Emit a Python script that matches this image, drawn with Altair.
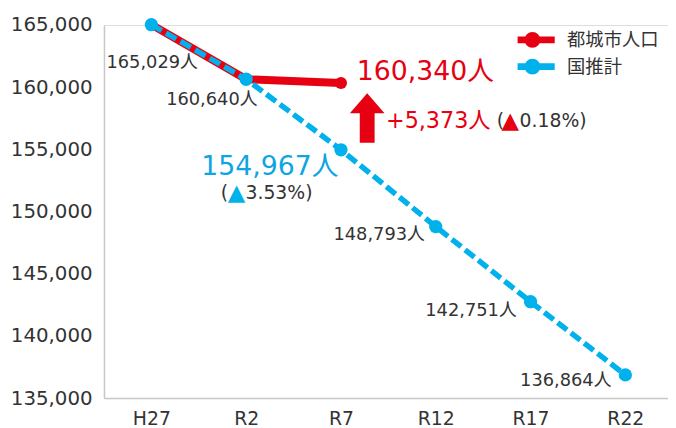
import altair as alt
import pandas as pd

categories = ["H27", "R2", "R7", "R12", "R17", "R22"]
city_values = [165029, 160640, 160340]
estimate_values = [165029, 160640, 154967, 148793, 142751, 136864]
series_names = ["都城市人口", "国推計"]
city_pct_text = "0.18%)"
est_pct_text = "3.53%)"

RED = "#e60012"
BLUE = "#00b1ec"
BLUE_TXT = "#0fa5e3"
GRAY = "#333333"
FONT = "DejaVu Sans, Noto Sans CJK JP"
CJK = "Noto Sans CJK JP"

city_df = pd.DataFrame({
    "idx": list(range(len(city_values))),
    "value": city_values,
    "series": series_names[0],
})
est_df = pd.DataFrame({
    "idx": list(range(len(estimate_values))),
    "value": estimate_values,
    "series": series_names[1],
})
diff = city_values[2] - estimate_values[2]
mid_df = pd.DataFrame({
    "idx": [2],
    "value": [(city_values[2] + estimate_values[2]) / 2],
    "diff_label": [f"+{diff:,}人"],
})

label_expr = "[" + ",".join(f"'{c}'" for c in categories) + "][datum.value]"

x = alt.X(
    "idx:Q",
    scale=alt.Scale(domain=[-0.5, 5.45], nice=False, zero=False),
    axis=alt.Axis(values=list(range(len(categories))), labelExpr=label_expr, title=None,
                  grid=False, ticks=False, domainColor="#c8c8c8", domainWidth=1.5,
                  labelFontSize=19, labelColor=GRAY, labelPadding=12, labelFont=FONT),
)
y = alt.Y(
    "value:Q",
    scale=alt.Scale(domain=[135000, 165000], nice=False, zero=False),
    axis=alt.Axis(values=list(range(135000, 165001, 5000)), format=",d", title=None,
                  grid=False, ticks=False, domainColor="#c8c8c8", domainWidth=1.5,
                  labelFontSize=20, labelColor=GRAY, labelPadding=12, labelFont=FONT),
)

legend_path = "M-2,0L2,0M0.4,0A0.4,0.4,0,1,1,-0.4,0A0.4,0.4,0,1,1,0.4,0"
color = alt.Color(
    "series:N",
    scale=alt.Scale(domain=series_names, range=[RED, BLUE]),
    legend=alt.Legend(title=None, orient="none", legendX=418, legendY=4,
                      symbolType=legend_path, symbolSize=506, symbolStrokeWidth=7,
                      labelFontSize=18.5, labelFont=CJK, labelColor=GRAY, labelOffset=20,
                      clipHeight=22, rowPadding=5, padding=0),
)

city_base = alt.Chart(city_df).encode(x=x, y=y, color=color)
est_base = alt.Chart(est_df).encode(x=x, y=y, color=color)

city_line = city_base.mark_line(strokeWidth=8)
city_pts = city_base.mark_circle(size=150, opacity=1)
est_line = est_base.mark_line(strokeWidth=5.5, strokeDash=[12, 5])
est_pts = est_base.mark_circle(size=180, opacity=1)

fmt = "format(datum.value, ',d') + '人'"

# data labels for estimate series
label_offsets = {0: ("right", 47, 39), 1: ("right", 11.5, 21), 3: ("right", -11, 8.5),
                 4: ("right", -14, 9), 5: ("right", -14, 6)}
labels = []
for i, (al, dx, dy) in label_offsets.items():
    labels.append(
        alt.Chart(est_df).transform_filter(f"datum.idx == {i}")
        .transform_calculate(label=fmt)
        .mark_text(align=al, baseline="middle", dx=dx, dy=dy, fontSize=18, font=FONT, color=GRAY)
        .encode(x=x, y=y, text="label:N")
    )

city_big = (alt.Chart(city_df).transform_filter("datum.idx == 2").transform_calculate(label=fmt)
            .mark_text(align="left", baseline="middle", dx=16, dy=-11.5, fontSize=27, font=FONT, color=RED)
            .encode(x=x, y=y, text="label:N"))
est_big = (alt.Chart(est_df).transform_filter("datum.idx == 2").transform_calculate(label=fmt)
           .mark_text(align="right", baseline="middle", dx=-2.5, dy=17.6, fontSize=27, font=FONT, color=BLUE_TXT)
           .encode(x=x, y=y, text="label:N"))

est_blue_pt = alt.Chart(est_df).transform_filter("datum.idx == 2")
est_p1 = est_blue_pt.mark_text(align="left", baseline="middle", dx=-121.5, dy=44, fontSize=19,
                               font=FONT, color=GRAY).encode(x=x, y=y, text=alt.value("("))
est_p2 = est_blue_pt.mark_text(align="center", baseline="middle", dx=-105.5, dy=44, fontSize=23,
                               font=FONT, color=BLUE).encode(x=x, y=y, text=alt.value("▲"))
est_p3 = est_blue_pt.mark_text(align="left", baseline="middle", dx=-96.5, dy=44, fontSize=19,
                               font=FONT, color=GRAY).encode(x=x, y=y, text=alt.value(est_pct_text))

arrow_path = "M0,-1L0.7,-0.2L0.3,-0.2L0.3,1L-0.3,1L-0.3,-0.2L-0.7,-0.2Z"
mid = alt.Chart(mid_df)
arrow = mid.mark_point(shape=arrow_path, filled=True, size=2500, color=RED, opacity=1,
                       strokeWidth=0, xOffset=26.5, yOffset=1.7).encode(x=x, y=y)
diff_txt = mid.mark_text(align="left", baseline="middle", dx=45.5, dy=4.7, fontSize=22.5,
                         font=FONT, color=RED).encode(x=x, y=y, text="diff_label:N")
c_p1 = mid.mark_text(align="left", baseline="middle", dx=157.5, dy=5, fontSize=19,
                     font=FONT, color=GRAY).encode(x=x, y=y, text=alt.value("("))
c_p2 = mid.mark_text(align="center", baseline="middle", dx=171, dy=5, fontSize=23,
                     font=FONT, color=RED).encode(x=x, y=y, text=alt.value("▲"))
c_p3 = mid.mark_text(align="left", baseline="middle", dx=180.5, dy=5, fontSize=19,
                     font=FONT, color=GRAY).encode(x=x, y=y, text=alt.value(city_pct_text))

chart = alt.layer(
    city_line, city_pts, est_line, est_pts, *labels, city_big, est_big,
    est_p1, est_p2, est_p3, arrow, diff_txt, c_p1, c_p2, c_p3,
).properties(
    width=570, height=377,
    autosize=alt.AutoSizeParams(type="none"),
    padding={"left": 97, "top": 15, "right": 0, "bottom": 28},
).configure_view(stroke=None).configure(font=FONT)

chart.save("out.html", embed_options={"renderer": "svg", "actions": False})
